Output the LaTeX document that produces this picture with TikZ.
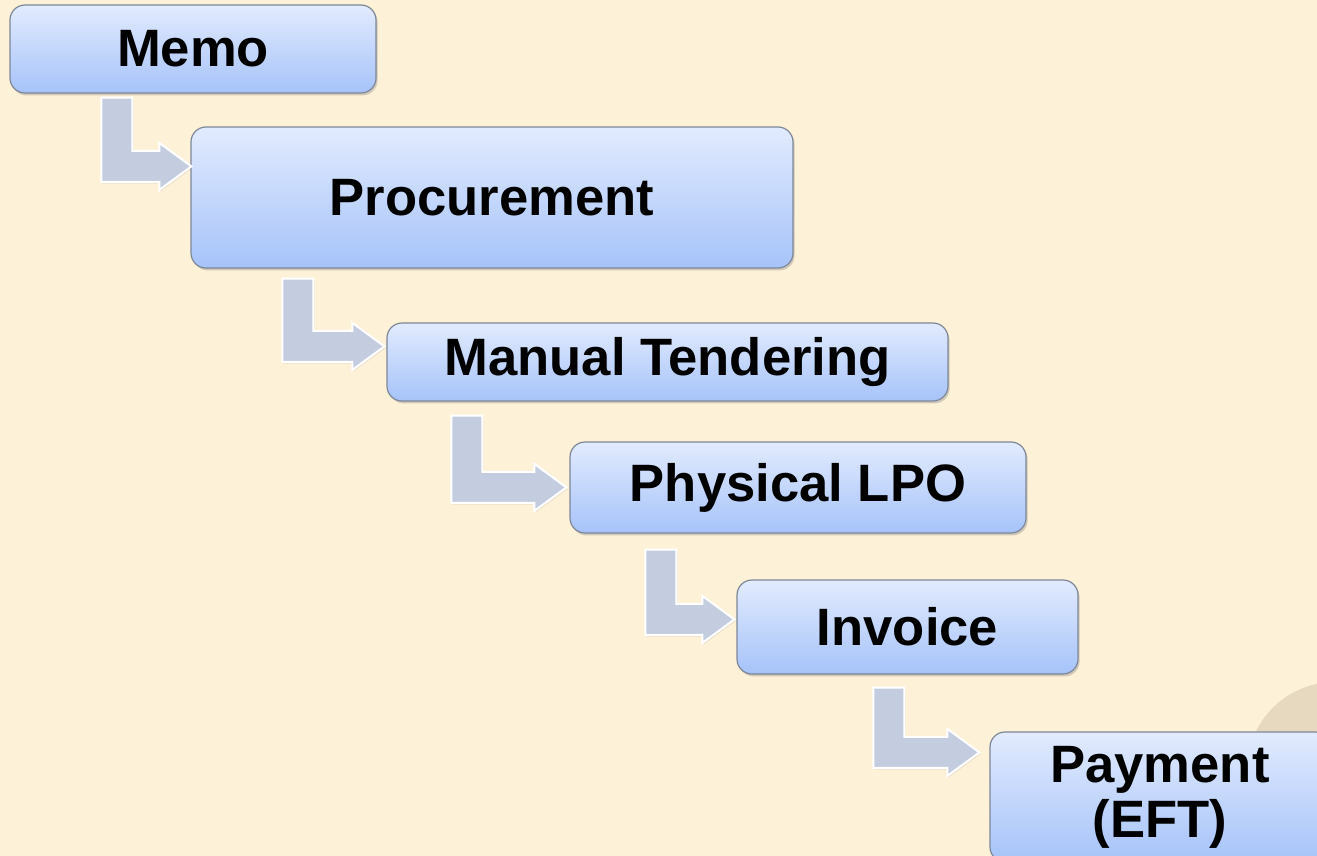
\documentclass[tikz,border=0pt]{standalone}
\usepackage{fontspec}
\setmainfont{Liberation Sans}
\usetikzlibrary{calc,shadows}
\definecolor{cream}{HTML}{FDF1D8}
\definecolor{tancircle}{HTML}{D9C9AF}
\definecolor{boxtop}{HTML}{E2EBFE}
\definecolor{boxbottom}{HTML}{A6C3F9}
\definecolor{boxline}{HTML}{7E8798}
\definecolor{elbowfill}{HTML}{C4CDE0}
\tikzstyle{stage} = [rectangle, rounded corners=7.5pt, draw=boxline, line width=0.6pt, top color=boxtop, bottom color=boxbottom, align=center, inner sep=0pt, font=\fontsize{26.3}{27.5}\selectfont\bfseries, drop shadow={shadow xshift=0.8pt, shadow yshift=-1.2pt, opacity=0.35}]
\tikzstyle{elbow} = [fill=elbowfill, draw=white, line width=1pt, line join=miter, drop shadow={shadow xshift=0.6pt, shadow yshift=-0.8pt, opacity=0.15}]
% elbow arrow: source, target, stem offset, gap under source, tip drop, tip gap (all pt)
\newcommand{\bentarrow}[6]{%
\path [elbow] let \p1 = (#1.south west), \p2 = (#2.north west),
  \p3 = ($(\x1+#3pt,\y1-#4pt)$), \p4 = ($(\x2-#6pt,\y2-#5pt)$) in
  (\x3,\y3) -- (\x3+15.5pt,\y3) -- (\x3+15.5pt,\y4+7.75pt) -- (\x4-16pt,\y4+7.75pt)
  -- (\x4-16pt,\y4+11.75pt) -- (\x4,\y4) -- (\x4-16pt,\y4-11.75pt)
  -- (\x4-16pt,\y4-7.75pt) -- (\x3,\y4-7.75pt) -- cycle;}

\begin{document}
\begin{tikzpicture}[x=0.5pt, y=-0.5pt]

\fill [cream] (0, 0) rectangle (1317, 856);
\useasboundingbox (0, 0) rectangle (1317, 856);
\clip (0, 0) rectangle (1317, 856);
\fill [tancircle, opacity=0.6] (1335, 770) circle (44pt);

% stages
\node [stage, minimum width=183pt, minimum height=44pt] at (193, 49) (memo) {Memo};
\node [stage, minimum width=301pt, minimum height=70.5pt] at (492, 197.5) (proc) {Procurement};
\node [stage, minimum width=280.5pt, minimum height=39pt] at (667.5, 362) (tender) {Manual Tendering};
\node [stage, minimum width=228pt, minimum height=45.5pt] at (798, 487.5) (lpo) {Physical LPO};
\node [stage, minimum width=170.5pt, minimum height=47pt] at (907.5, 627) (invoice) {Invoice};
\node [stage, minimum width=170pt, minimum height=65pt] at (1160, 797) (payment) {Payment\\(EFT)};

% arrows
\bentarrow{memo}{proc}{46}{2}{20}{-0.5}
\bentarrow{proc}{tender}{46}{5}{12}{1}
\bentarrow{tender}{lpo}{32.5}{7}{23}{1.5}
\bentarrow{lpo}{invoice}{38}{8}{20}{1}
\bentarrow{invoice}{payment}{68.5}{6.5}{10.5}{5}

\end{tikzpicture}
\end{document}
